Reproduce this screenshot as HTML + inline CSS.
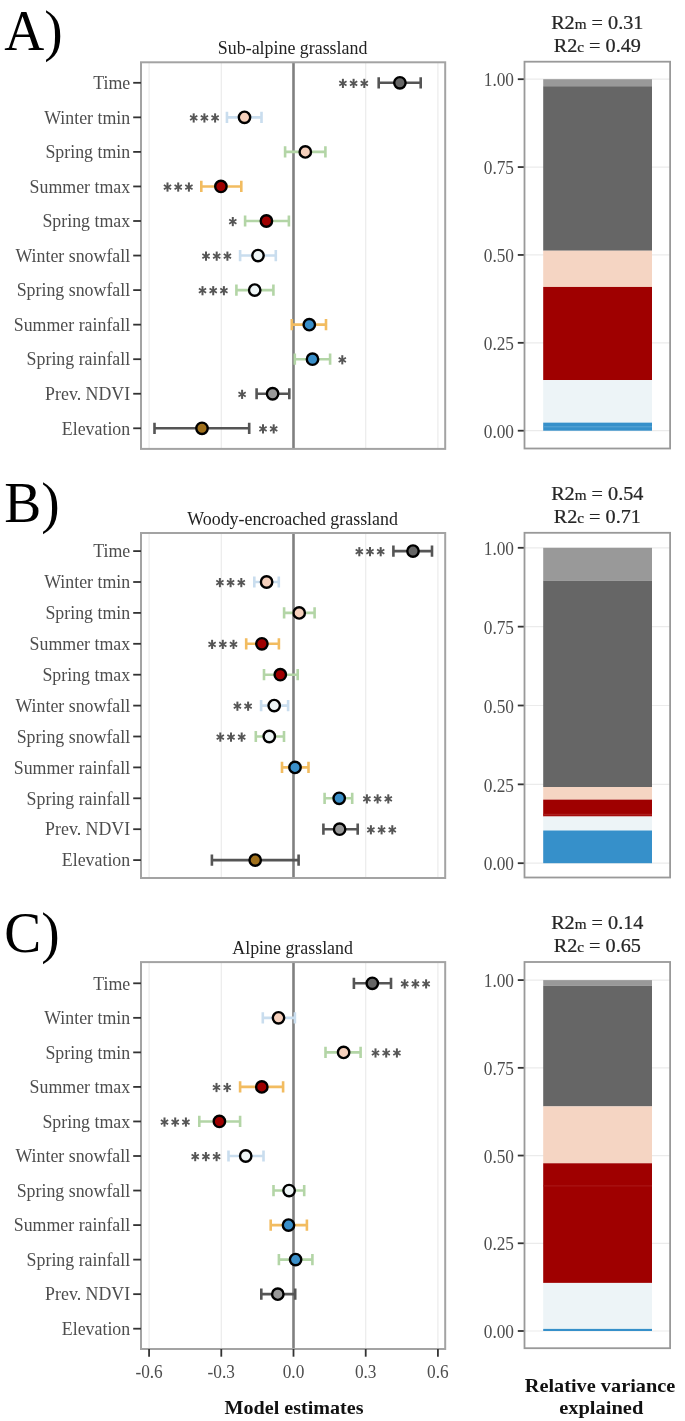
<!DOCTYPE html>
<html><head><meta charset="utf-8"><title>Model estimates</title>
<style>
html,body{margin:0;padding:0;background:#fff;}
body{width:685px;height:1421px;overflow:hidden;}
svg{display:block;filter:blur(0.4px);font-family:"Liberation Serif",serif;}
</style></head>
<body>
<svg width="685" height="1421" viewBox="0 0 685 1421">
<rect width="685" height="1421" fill="#fff"/>
<text transform="translate(4.3,49.60) scale(1,1.03)" font-size="55.4" fill="#000">A)</text>
<text transform="translate(292.60,54.40) scale(1,1.1)" font-size="17.9" text-anchor="middle" fill="#222" font-weight="normal" >Sub-alpine grassland</text>
<line x1="149.08" y1="62.3" x2="149.08" y2="448.9" stroke="#ebebeb" stroke-width="1.2"/>
<line x1="221.29" y1="62.3" x2="221.29" y2="448.9" stroke="#ebebeb" stroke-width="1.2"/>
<line x1="365.71" y1="62.3" x2="365.71" y2="448.9" stroke="#ebebeb" stroke-width="1.2"/>
<line x1="437.92" y1="62.3" x2="437.92" y2="448.9" stroke="#ebebeb" stroke-width="1.2"/>
<line x1="293.5" y1="62.3" x2="293.5" y2="448.9" stroke="#808080" stroke-width="2.6"/>
<rect x="141.0" y="62.3" width="304.20" height="386.60" fill="none" stroke="#a3a3a3" stroke-width="2.0"/>
<line x1="133.2" y1="82.80" x2="141.0" y2="82.80" stroke="#333" stroke-width="1.8"/>
<text transform="translate(130.20,89.02) scale(1.033,1.1)" font-size="17.3" text-anchor="end" fill="#4d4d4d" font-weight="normal" >Time</text>
<path d="M378.70,82.80H420.70M378.70,77.20V88.40M420.70,77.20V88.40" stroke="#555555" stroke-width="2.6" fill="none"/>
<circle cx="399.90" cy="82.80" r="5.7" fill="#666666" stroke="#000" stroke-width="2.4"/>
<path d="M342.90,78.80V88.00" stroke="#555555" stroke-width="2.0" fill="none"/>
<path d="M339.26,81.30L346.54,85.50M346.54,81.30L339.26,85.50" stroke="#555555" stroke-width="1.7" fill="none"/>
<path d="M353.60,78.80V88.00" stroke="#555555" stroke-width="2.0" fill="none"/>
<path d="M349.96,81.30L357.24,85.50M357.24,81.30L349.96,85.50" stroke="#555555" stroke-width="1.7" fill="none"/>
<path d="M364.30,78.80V88.00" stroke="#555555" stroke-width="2.0" fill="none"/>
<path d="M360.66,81.30L367.94,85.50M367.94,81.30L360.66,85.50" stroke="#555555" stroke-width="1.7" fill="none"/>
<line x1="133.2" y1="117.35" x2="141.0" y2="117.35" stroke="#333" stroke-width="1.8"/>
<text transform="translate(130.20,123.56) scale(1.033,1.1)" font-size="17.3" text-anchor="end" fill="#4d4d4d" font-weight="normal" >Winter tmin</text>
<path d="M226.95,117.35H261.50M226.95,111.75V122.95M261.50,111.75V122.95" stroke="#c9ddee" stroke-width="2.6" fill="none"/>
<circle cx="244.50" cy="117.35" r="5.7" fill="#f5d0bc" stroke="#000" stroke-width="2.4"/>
<path d="M193.70,113.35V122.55" stroke="#555555" stroke-width="2.0" fill="none"/>
<path d="M190.06,115.85L197.34,120.05M197.34,115.85L190.06,120.05" stroke="#555555" stroke-width="1.7" fill="none"/>
<path d="M204.40,113.35V122.55" stroke="#555555" stroke-width="2.0" fill="none"/>
<path d="M200.76,115.85L208.04,120.05M208.04,115.85L200.76,120.05" stroke="#555555" stroke-width="1.7" fill="none"/>
<path d="M215.10,113.35V122.55" stroke="#555555" stroke-width="2.0" fill="none"/>
<path d="M211.46,115.85L218.74,120.05M218.74,115.85L211.46,120.05" stroke="#555555" stroke-width="1.7" fill="none"/>
<line x1="133.2" y1="151.90" x2="141.0" y2="151.90" stroke="#333" stroke-width="1.8"/>
<text transform="translate(130.20,158.11) scale(1.033,1.1)" font-size="17.3" text-anchor="end" fill="#4d4d4d" font-weight="normal" >Spring tmin</text>
<path d="M285.10,151.90H325.40M285.10,146.30V157.50M325.40,146.30V157.50" stroke="#b3d5a6" stroke-width="2.6" fill="none"/>
<circle cx="305.30" cy="151.90" r="5.7" fill="#f5d0bc" stroke="#000" stroke-width="2.4"/>
<line x1="133.2" y1="186.45" x2="141.0" y2="186.45" stroke="#333" stroke-width="1.8"/>
<text transform="translate(130.20,192.66) scale(1.033,1.1)" font-size="17.3" text-anchor="end" fill="#4d4d4d" font-weight="normal" >Summer tmax</text>
<path d="M201.30,186.45H241.30M201.30,180.85V192.05M241.30,180.85V192.05" stroke="#f2bc60" stroke-width="2.6" fill="none"/>
<circle cx="220.90" cy="186.45" r="5.7" fill="#9f0000" stroke="#000" stroke-width="2.4"/>
<path d="M167.50,182.45V191.65" stroke="#555555" stroke-width="2.0" fill="none"/>
<path d="M163.86,184.95L171.14,189.15M171.14,184.95L163.86,189.15" stroke="#555555" stroke-width="1.7" fill="none"/>
<path d="M178.20,182.45V191.65" stroke="#555555" stroke-width="2.0" fill="none"/>
<path d="M174.56,184.95L181.84,189.15M181.84,184.95L174.56,189.15" stroke="#555555" stroke-width="1.7" fill="none"/>
<path d="M188.90,182.45V191.65" stroke="#555555" stroke-width="2.0" fill="none"/>
<path d="M185.26,184.95L192.54,189.15M192.54,184.95L185.26,189.15" stroke="#555555" stroke-width="1.7" fill="none"/>
<line x1="133.2" y1="221.00" x2="141.0" y2="221.00" stroke="#333" stroke-width="1.8"/>
<text transform="translate(130.20,227.22) scale(1.033,1.1)" font-size="17.3" text-anchor="end" fill="#4d4d4d" font-weight="normal" >Spring tmax</text>
<path d="M245.10,221.00H288.90M245.10,215.40V226.60M288.90,215.40V226.60" stroke="#b3d5a6" stroke-width="2.6" fill="none"/>
<circle cx="266.40" cy="221.00" r="5.7" fill="#9f0000" stroke="#000" stroke-width="2.4"/>
<path d="M232.80,217.00V226.20" stroke="#555555" stroke-width="2.0" fill="none"/>
<path d="M229.16,219.50L236.44,223.70M236.44,219.50L229.16,223.70" stroke="#555555" stroke-width="1.7" fill="none"/>
<line x1="133.2" y1="255.55" x2="141.0" y2="255.55" stroke="#333" stroke-width="1.8"/>
<text transform="translate(130.20,261.76) scale(1.033,1.1)" font-size="17.3" text-anchor="end" fill="#4d4d4d" font-weight="normal" >Winter snowfall</text>
<path d="M240.10,255.55H275.80M240.10,249.95V261.15M275.80,249.95V261.15" stroke="#c9ddee" stroke-width="2.6" fill="none"/>
<circle cx="258.00" cy="255.55" r="5.7" fill="#eef5f6" stroke="#000" stroke-width="2.4"/>
<path d="M206.00,251.55V260.75" stroke="#555555" stroke-width="2.0" fill="none"/>
<path d="M202.36,254.05L209.64,258.25M209.64,254.05L202.36,258.25" stroke="#555555" stroke-width="1.7" fill="none"/>
<path d="M216.70,251.55V260.75" stroke="#555555" stroke-width="2.0" fill="none"/>
<path d="M213.06,254.05L220.34,258.25M220.34,254.05L213.06,258.25" stroke="#555555" stroke-width="1.7" fill="none"/>
<path d="M227.40,251.55V260.75" stroke="#555555" stroke-width="2.0" fill="none"/>
<path d="M223.76,254.05L231.04,258.25M231.04,254.05L223.76,258.25" stroke="#555555" stroke-width="1.7" fill="none"/>
<line x1="133.2" y1="290.10" x2="141.0" y2="290.10" stroke="#333" stroke-width="1.8"/>
<text transform="translate(130.20,296.31) scale(1.033,1.1)" font-size="17.3" text-anchor="end" fill="#4d4d4d" font-weight="normal" >Spring snowfall</text>
<path d="M236.40,290.10H273.40M236.40,284.50V295.70M273.40,284.50V295.70" stroke="#b3d5a6" stroke-width="2.6" fill="none"/>
<circle cx="254.70" cy="290.10" r="5.7" fill="#eef5f6" stroke="#000" stroke-width="2.4"/>
<path d="M202.50,286.10V295.30" stroke="#555555" stroke-width="2.0" fill="none"/>
<path d="M198.86,288.60L206.14,292.80M206.14,288.60L198.86,292.80" stroke="#555555" stroke-width="1.7" fill="none"/>
<path d="M213.20,286.10V295.30" stroke="#555555" stroke-width="2.0" fill="none"/>
<path d="M209.56,288.60L216.84,292.80M216.84,288.60L209.56,292.80" stroke="#555555" stroke-width="1.7" fill="none"/>
<path d="M223.90,286.10V295.30" stroke="#555555" stroke-width="2.0" fill="none"/>
<path d="M220.26,288.60L227.54,292.80M227.54,288.60L220.26,292.80" stroke="#555555" stroke-width="1.7" fill="none"/>
<line x1="133.2" y1="324.65" x2="141.0" y2="324.65" stroke="#333" stroke-width="1.8"/>
<text transform="translate(130.20,330.86) scale(1.033,1.1)" font-size="17.3" text-anchor="end" fill="#4d4d4d" font-weight="normal" >Summer rainfall</text>
<path d="M291.80,324.65H326.00M291.80,319.05V330.25M326.00,319.05V330.25" stroke="#f2bc60" stroke-width="2.6" fill="none"/>
<circle cx="309.30" cy="324.65" r="5.7" fill="#3a8fc9" stroke="#000" stroke-width="2.4"/>
<line x1="133.2" y1="359.20" x2="141.0" y2="359.20" stroke="#333" stroke-width="1.8"/>
<text transform="translate(130.20,365.41) scale(1.033,1.1)" font-size="17.3" text-anchor="end" fill="#4d4d4d" font-weight="normal" >Spring rainfall</text>
<path d="M294.80,359.20H330.10M294.80,353.60V364.80M330.10,353.60V364.80" stroke="#b3d5a6" stroke-width="2.6" fill="none"/>
<circle cx="312.50" cy="359.20" r="5.7" fill="#3a8fc9" stroke="#000" stroke-width="2.4"/>
<path d="M342.30,355.20V364.40" stroke="#555555" stroke-width="2.0" fill="none"/>
<path d="M338.66,357.70L345.94,361.90M345.94,357.70L338.66,361.90" stroke="#555555" stroke-width="1.7" fill="none"/>
<line x1="133.2" y1="393.75" x2="141.0" y2="393.75" stroke="#333" stroke-width="1.8"/>
<text transform="translate(130.20,399.96) scale(1.033,1.1)" font-size="17.3" text-anchor="end" fill="#4d4d4d" font-weight="normal" >Prev. NDVI</text>
<path d="M256.60,393.75H289.30M256.60,388.15V399.35M289.30,388.15V399.35" stroke="#555555" stroke-width="2.6" fill="none"/>
<circle cx="272.60" cy="393.75" r="5.7" fill="#999999" stroke="#000" stroke-width="2.4"/>
<path d="M242.10,389.75V398.95" stroke="#555555" stroke-width="2.0" fill="none"/>
<path d="M238.46,392.25L245.74,396.45M245.74,392.25L238.46,396.45" stroke="#555555" stroke-width="1.7" fill="none"/>
<line x1="133.2" y1="428.30" x2="141.0" y2="428.30" stroke="#333" stroke-width="1.8"/>
<text transform="translate(130.20,434.51) scale(1.033,1.1)" font-size="17.3" text-anchor="end" fill="#4d4d4d" font-weight="normal" >Elevation</text>
<path d="M154.50,428.30H249.20M154.50,422.70V433.90M249.20,422.70V433.90" stroke="#555555" stroke-width="2.6" fill="none"/>
<circle cx="202.00" cy="428.30" r="5.7" fill="#a0701c" stroke="#000" stroke-width="2.4"/>
<path d="M263.00,424.30V433.50" stroke="#555555" stroke-width="2.0" fill="none"/>
<path d="M259.36,426.80L266.64,431.00M266.64,426.80L259.36,431.00" stroke="#555555" stroke-width="1.7" fill="none"/>
<path d="M273.70,424.30V433.50" stroke="#555555" stroke-width="2.0" fill="none"/>
<path d="M270.06,426.80L277.34,431.00M277.34,426.80L270.06,431.00" stroke="#555555" stroke-width="1.7" fill="none"/>
<line x1="524.5" y1="430.70" x2="670.1" y2="430.70" stroke="#ebebeb" stroke-width="1.2"/>
<line x1="517.8" y1="430.70" x2="524.5" y2="430.70" stroke="#333" stroke-width="1.8"/>
<text transform="translate(514.00,437.91) scale(1,1.1)" font-size="17.3" text-anchor="end" fill="#4d4d4d" font-weight="normal" >0.00</text>
<line x1="524.5" y1="342.82" x2="670.1" y2="342.82" stroke="#ebebeb" stroke-width="1.2"/>
<line x1="517.8" y1="342.82" x2="524.5" y2="342.82" stroke="#333" stroke-width="1.8"/>
<text transform="translate(514.00,350.04) scale(1,1.1)" font-size="17.3" text-anchor="end" fill="#4d4d4d" font-weight="normal" >0.25</text>
<line x1="524.5" y1="254.95" x2="670.1" y2="254.95" stroke="#ebebeb" stroke-width="1.2"/>
<line x1="517.8" y1="254.95" x2="524.5" y2="254.95" stroke="#333" stroke-width="1.8"/>
<text transform="translate(514.00,262.16) scale(1,1.1)" font-size="17.3" text-anchor="end" fill="#4d4d4d" font-weight="normal" >0.50</text>
<line x1="524.5" y1="167.07" x2="670.1" y2="167.07" stroke="#ebebeb" stroke-width="1.2"/>
<line x1="517.8" y1="167.07" x2="524.5" y2="167.07" stroke="#333" stroke-width="1.8"/>
<text transform="translate(514.00,174.29) scale(1,1.1)" font-size="17.3" text-anchor="end" fill="#4d4d4d" font-weight="normal" >0.75</text>
<line x1="524.5" y1="79.20" x2="670.1" y2="79.20" stroke="#ebebeb" stroke-width="1.2"/>
<line x1="517.8" y1="79.20" x2="524.5" y2="79.20" stroke="#333" stroke-width="1.8"/>
<text transform="translate(514.00,86.41) scale(1,1.1)" font-size="17.3" text-anchor="end" fill="#4d4d4d" font-weight="normal" >1.00</text>
<rect x="543.2" y="79.20" width="108.80" height="7.03" fill="#999999"/>
<rect x="543.2" y="86.23" width="108.80" height="164.50" fill="#666666"/>
<rect x="543.2" y="250.73" width="108.80" height="36.20" fill="#f5d5c3"/>
<rect x="543.2" y="286.94" width="108.80" height="93.15" fill="#9f0000"/>
<rect x="543.2" y="380.08" width="108.80" height="42.53" fill="#edf4f7"/>
<rect x="543.2" y="422.62" width="108.80" height="8.08" fill="#3690ca"/>
<rect x="543.2" y="426.30" width="108.80" height="1.0" fill="#5ba6d6"/>
<rect x="524.5" y="61.7" width="145.60" height="386.80" fill="none" stroke="#999" stroke-width="1.8"/>
<text transform="translate(597.30,29.10) scale(1.17,1.1)" font-size="17.3" text-anchor="middle" fill="#262626" stroke="#262626" stroke-width="0.2">R2<tspan font-size="13">m</tspan> = 0.31</text>
<text transform="translate(597.30,51.70) scale(1.17,1.1)" font-size="17.3" text-anchor="middle" fill="#262626" stroke="#262626" stroke-width="0.2">R2<tspan font-size="13">c</tspan> = 0.49</text>
<text transform="translate(4.3,521.50) scale(1,1.03)" font-size="55.4" fill="#000">B)</text>
<text transform="translate(292.60,525.10) scale(1,1.1)" font-size="17.9" text-anchor="middle" fill="#222" font-weight="normal" >Woody-encroached grassland</text>
<line x1="149.08" y1="533.0" x2="149.08" y2="878.0" stroke="#ebebeb" stroke-width="1.2"/>
<line x1="221.29" y1="533.0" x2="221.29" y2="878.0" stroke="#ebebeb" stroke-width="1.2"/>
<line x1="365.71" y1="533.0" x2="365.71" y2="878.0" stroke="#ebebeb" stroke-width="1.2"/>
<line x1="437.92" y1="533.0" x2="437.92" y2="878.0" stroke="#ebebeb" stroke-width="1.2"/>
<line x1="293.5" y1="533.0" x2="293.5" y2="878.0" stroke="#808080" stroke-width="2.6"/>
<rect x="141.0" y="533.0" width="304.20" height="345.00" fill="none" stroke="#a3a3a3" stroke-width="2.0"/>
<line x1="133.2" y1="551.10" x2="141.0" y2="551.10" stroke="#333" stroke-width="1.8"/>
<text transform="translate(130.20,557.32) scale(1.033,1.1)" font-size="17.3" text-anchor="end" fill="#4d4d4d" font-weight="normal" >Time</text>
<path d="M393.40,551.10H432.00M393.40,545.50V556.70M432.00,545.50V556.70" stroke="#555555" stroke-width="2.6" fill="none"/>
<circle cx="413.00" cy="551.10" r="5.7" fill="#666666" stroke="#000" stroke-width="2.4"/>
<path d="M359.30,547.10V556.30" stroke="#555555" stroke-width="2.0" fill="none"/>
<path d="M355.66,549.60L362.94,553.80M362.94,549.60L355.66,553.80" stroke="#555555" stroke-width="1.7" fill="none"/>
<path d="M370.00,547.10V556.30" stroke="#555555" stroke-width="2.0" fill="none"/>
<path d="M366.36,549.60L373.64,553.80M373.64,549.60L366.36,553.80" stroke="#555555" stroke-width="1.7" fill="none"/>
<path d="M380.70,547.10V556.30" stroke="#555555" stroke-width="2.0" fill="none"/>
<path d="M377.06,549.60L384.34,553.80M384.34,549.60L377.06,553.80" stroke="#555555" stroke-width="1.7" fill="none"/>
<line x1="133.2" y1="582.00" x2="141.0" y2="582.00" stroke="#333" stroke-width="1.8"/>
<text transform="translate(130.20,588.22) scale(1.033,1.1)" font-size="17.3" text-anchor="end" fill="#4d4d4d" font-weight="normal" >Winter tmin</text>
<path d="M254.30,582.00H278.80M254.30,576.40V587.60M278.80,576.40V587.60" stroke="#c9ddee" stroke-width="2.6" fill="none"/>
<circle cx="266.60" cy="582.00" r="5.7" fill="#f5d0bc" stroke="#000" stroke-width="2.4"/>
<path d="M219.90,578.00V587.20" stroke="#555555" stroke-width="2.0" fill="none"/>
<path d="M216.26,580.50L223.54,584.70M223.54,580.50L216.26,584.70" stroke="#555555" stroke-width="1.7" fill="none"/>
<path d="M230.60,578.00V587.20" stroke="#555555" stroke-width="2.0" fill="none"/>
<path d="M226.96,580.50L234.24,584.70M234.24,580.50L226.96,584.70" stroke="#555555" stroke-width="1.7" fill="none"/>
<path d="M241.30,578.00V587.20" stroke="#555555" stroke-width="2.0" fill="none"/>
<path d="M237.66,580.50L244.94,584.70M244.94,580.50L237.66,584.70" stroke="#555555" stroke-width="1.7" fill="none"/>
<line x1="133.2" y1="612.90" x2="141.0" y2="612.90" stroke="#333" stroke-width="1.8"/>
<text transform="translate(130.20,619.12) scale(1.033,1.1)" font-size="17.3" text-anchor="end" fill="#4d4d4d" font-weight="normal" >Spring tmin</text>
<path d="M284.10,612.90H314.60M284.10,607.30V618.50M314.60,607.30V618.50" stroke="#b3d5a6" stroke-width="2.6" fill="none"/>
<circle cx="299.20" cy="612.90" r="5.7" fill="#f5d0bc" stroke="#000" stroke-width="2.4"/>
<line x1="133.2" y1="643.80" x2="141.0" y2="643.80" stroke="#333" stroke-width="1.8"/>
<text transform="translate(130.20,650.01) scale(1.033,1.1)" font-size="17.3" text-anchor="end" fill="#4d4d4d" font-weight="normal" >Summer tmax</text>
<path d="M246.20,643.80H278.90M246.20,638.20V649.40M278.90,638.20V649.40" stroke="#f2bc60" stroke-width="2.6" fill="none"/>
<circle cx="261.90" cy="643.80" r="5.7" fill="#9f0000" stroke="#000" stroke-width="2.4"/>
<path d="M212.10,639.80V649.00" stroke="#555555" stroke-width="2.0" fill="none"/>
<path d="M208.46,642.30L215.74,646.50M215.74,642.30L208.46,646.50" stroke="#555555" stroke-width="1.7" fill="none"/>
<path d="M222.80,639.80V649.00" stroke="#555555" stroke-width="2.0" fill="none"/>
<path d="M219.16,642.30L226.44,646.50M226.44,642.30L219.16,646.50" stroke="#555555" stroke-width="1.7" fill="none"/>
<path d="M233.50,639.80V649.00" stroke="#555555" stroke-width="2.0" fill="none"/>
<path d="M229.86,642.30L237.14,646.50M237.14,642.30L229.86,646.50" stroke="#555555" stroke-width="1.7" fill="none"/>
<line x1="133.2" y1="674.70" x2="141.0" y2="674.70" stroke="#333" stroke-width="1.8"/>
<text transform="translate(130.20,680.92) scale(1.033,1.1)" font-size="17.3" text-anchor="end" fill="#4d4d4d" font-weight="normal" >Spring tmax</text>
<path d="M264.00,674.70H297.70M264.00,669.10V680.30M297.70,669.10V680.30" stroke="#b3d5a6" stroke-width="2.6" fill="none"/>
<circle cx="280.30" cy="674.70" r="5.7" fill="#9f0000" stroke="#000" stroke-width="2.4"/>
<line x1="133.2" y1="705.60" x2="141.0" y2="705.60" stroke="#333" stroke-width="1.8"/>
<text transform="translate(130.20,711.82) scale(1.033,1.1)" font-size="17.3" text-anchor="end" fill="#4d4d4d" font-weight="normal" >Winter snowfall</text>
<path d="M261.10,705.60H288.10M261.10,700.00V711.20M288.10,700.00V711.20" stroke="#c9ddee" stroke-width="2.6" fill="none"/>
<circle cx="274.20" cy="705.60" r="5.7" fill="#eef5f6" stroke="#000" stroke-width="2.4"/>
<path d="M237.40,701.60V710.80" stroke="#555555" stroke-width="2.0" fill="none"/>
<path d="M233.76,704.10L241.04,708.30M241.04,704.10L233.76,708.30" stroke="#555555" stroke-width="1.7" fill="none"/>
<path d="M248.10,701.60V710.80" stroke="#555555" stroke-width="2.0" fill="none"/>
<path d="M244.46,704.10L251.74,708.30M251.74,704.10L244.46,708.30" stroke="#555555" stroke-width="1.7" fill="none"/>
<line x1="133.2" y1="736.50" x2="141.0" y2="736.50" stroke="#333" stroke-width="1.8"/>
<text transform="translate(130.20,742.72) scale(1.033,1.1)" font-size="17.3" text-anchor="end" fill="#4d4d4d" font-weight="normal" >Spring snowfall</text>
<path d="M255.80,736.50H284.00M255.80,730.90V742.10M284.00,730.90V742.10" stroke="#b3d5a6" stroke-width="2.6" fill="none"/>
<circle cx="269.30" cy="736.50" r="5.7" fill="#eef5f6" stroke="#000" stroke-width="2.4"/>
<path d="M220.30,732.50V741.70" stroke="#555555" stroke-width="2.0" fill="none"/>
<path d="M216.66,735.00L223.94,739.20M223.94,735.00L216.66,739.20" stroke="#555555" stroke-width="1.7" fill="none"/>
<path d="M231.00,732.50V741.70" stroke="#555555" stroke-width="2.0" fill="none"/>
<path d="M227.36,735.00L234.64,739.20M234.64,735.00L227.36,739.20" stroke="#555555" stroke-width="1.7" fill="none"/>
<path d="M241.70,732.50V741.70" stroke="#555555" stroke-width="2.0" fill="none"/>
<path d="M238.06,735.00L245.34,739.20M245.34,735.00L238.06,739.20" stroke="#555555" stroke-width="1.7" fill="none"/>
<line x1="133.2" y1="767.40" x2="141.0" y2="767.40" stroke="#333" stroke-width="1.8"/>
<text transform="translate(130.20,773.62) scale(1.033,1.1)" font-size="17.3" text-anchor="end" fill="#4d4d4d" font-weight="normal" >Summer rainfall</text>
<path d="M282.00,767.40H308.50M282.00,761.80V773.00M308.50,761.80V773.00" stroke="#f2bc60" stroke-width="2.6" fill="none"/>
<circle cx="295.00" cy="767.40" r="5.7" fill="#3a8fc9" stroke="#000" stroke-width="2.4"/>
<line x1="133.2" y1="798.30" x2="141.0" y2="798.30" stroke="#333" stroke-width="1.8"/>
<text transform="translate(130.20,804.51) scale(1.033,1.1)" font-size="17.3" text-anchor="end" fill="#4d4d4d" font-weight="normal" >Spring rainfall</text>
<path d="M324.60,798.30H352.20M324.60,792.70V803.90M352.20,792.70V803.90" stroke="#b3d5a6" stroke-width="2.6" fill="none"/>
<circle cx="339.20" cy="798.30" r="5.7" fill="#3a8fc9" stroke="#000" stroke-width="2.4"/>
<path d="M366.90,794.30V803.50" stroke="#555555" stroke-width="2.0" fill="none"/>
<path d="M363.26,796.80L370.54,801.00M370.54,796.80L363.26,801.00" stroke="#555555" stroke-width="1.7" fill="none"/>
<path d="M377.60,794.30V803.50" stroke="#555555" stroke-width="2.0" fill="none"/>
<path d="M373.96,796.80L381.24,801.00M381.24,796.80L373.96,801.00" stroke="#555555" stroke-width="1.7" fill="none"/>
<path d="M388.30,794.30V803.50" stroke="#555555" stroke-width="2.0" fill="none"/>
<path d="M384.66,796.80L391.94,801.00M391.94,796.80L384.66,801.00" stroke="#555555" stroke-width="1.7" fill="none"/>
<line x1="133.2" y1="829.20" x2="141.0" y2="829.20" stroke="#333" stroke-width="1.8"/>
<text transform="translate(130.20,835.42) scale(1.033,1.1)" font-size="17.3" text-anchor="end" fill="#4d4d4d" font-weight="normal" >Prev. NDVI</text>
<path d="M323.40,829.20H357.70M323.40,823.60V834.80M357.70,823.60V834.80" stroke="#555555" stroke-width="2.6" fill="none"/>
<circle cx="339.60" cy="829.20" r="5.7" fill="#999999" stroke="#000" stroke-width="2.4"/>
<path d="M370.90,825.20V834.40" stroke="#555555" stroke-width="2.0" fill="none"/>
<path d="M367.26,827.70L374.54,831.90M374.54,827.70L367.26,831.90" stroke="#555555" stroke-width="1.7" fill="none"/>
<path d="M381.60,825.20V834.40" stroke="#555555" stroke-width="2.0" fill="none"/>
<path d="M377.96,827.70L385.24,831.90M385.24,827.70L377.96,831.90" stroke="#555555" stroke-width="1.7" fill="none"/>
<path d="M392.30,825.20V834.40" stroke="#555555" stroke-width="2.0" fill="none"/>
<path d="M388.66,827.70L395.94,831.90M395.94,827.70L388.66,831.90" stroke="#555555" stroke-width="1.7" fill="none"/>
<line x1="133.2" y1="860.10" x2="141.0" y2="860.10" stroke="#333" stroke-width="1.8"/>
<text transform="translate(130.20,866.32) scale(1.033,1.1)" font-size="17.3" text-anchor="end" fill="#4d4d4d" font-weight="normal" >Elevation</text>
<path d="M211.90,860.10H298.60M211.90,854.50V865.70M298.60,854.50V865.70" stroke="#555555" stroke-width="2.6" fill="none"/>
<circle cx="255.20" cy="860.10" r="5.7" fill="#a0701c" stroke="#000" stroke-width="2.4"/>
<line x1="524.5" y1="863.20" x2="670.1" y2="863.20" stroke="#ebebeb" stroke-width="1.2"/>
<line x1="517.8" y1="863.20" x2="524.5" y2="863.20" stroke="#333" stroke-width="1.8"/>
<text transform="translate(514.00,870.42) scale(1,1.1)" font-size="17.3" text-anchor="end" fill="#4d4d4d" font-weight="normal" >0.00</text>
<line x1="524.5" y1="784.35" x2="670.1" y2="784.35" stroke="#ebebeb" stroke-width="1.2"/>
<line x1="517.8" y1="784.35" x2="524.5" y2="784.35" stroke="#333" stroke-width="1.8"/>
<text transform="translate(514.00,791.57) scale(1,1.1)" font-size="17.3" text-anchor="end" fill="#4d4d4d" font-weight="normal" >0.25</text>
<line x1="524.5" y1="705.50" x2="670.1" y2="705.50" stroke="#ebebeb" stroke-width="1.2"/>
<line x1="517.8" y1="705.50" x2="524.5" y2="705.50" stroke="#333" stroke-width="1.8"/>
<text transform="translate(514.00,712.72) scale(1,1.1)" font-size="17.3" text-anchor="end" fill="#4d4d4d" font-weight="normal" >0.50</text>
<line x1="524.5" y1="626.65" x2="670.1" y2="626.65" stroke="#ebebeb" stroke-width="1.2"/>
<line x1="517.8" y1="626.65" x2="524.5" y2="626.65" stroke="#333" stroke-width="1.8"/>
<text transform="translate(514.00,633.87) scale(1,1.1)" font-size="17.3" text-anchor="end" fill="#4d4d4d" font-weight="normal" >0.75</text>
<line x1="524.5" y1="547.80" x2="670.1" y2="547.80" stroke="#ebebeb" stroke-width="1.2"/>
<line x1="517.8" y1="547.80" x2="524.5" y2="547.80" stroke="#333" stroke-width="1.8"/>
<text transform="translate(514.00,555.01) scale(1,1.1)" font-size="17.3" text-anchor="end" fill="#4d4d4d" font-weight="normal" >1.00</text>
<rect x="543.2" y="547.80" width="108.80" height="32.80" fill="#999999"/>
<rect x="543.2" y="580.60" width="108.80" height="206.40" fill="#666666"/>
<rect x="543.2" y="787.00" width="108.80" height="12.62" fill="#f5d5c3"/>
<rect x="543.2" y="799.62" width="108.80" height="16.91" fill="#9f0000"/>
<rect x="543.2" y="816.52" width="108.80" height="13.97" fill="#edf4f7"/>
<rect x="543.2" y="830.49" width="108.80" height="32.71" fill="#3690ca"/>
<rect x="543.2" y="813.80" width="108.80" height="1.6" fill="#ad1f1f"/>
<rect x="524.5" y="532.8" width="145.60" height="344.70" fill="none" stroke="#999" stroke-width="1.8"/>
<text transform="translate(597.30,500.20) scale(1.17,1.1)" font-size="17.3" text-anchor="middle" fill="#262626" stroke="#262626" stroke-width="0.2">R2<tspan font-size="13">m</tspan> = 0.54</text>
<text transform="translate(597.30,522.80) scale(1.17,1.1)" font-size="17.3" text-anchor="middle" fill="#262626" stroke="#262626" stroke-width="0.2">R2<tspan font-size="13">c</tspan> = 0.71</text>
<text transform="translate(4.3,952.20) scale(1,1.03)" font-size="55.4" fill="#000">C)</text>
<text transform="translate(292.60,954.20) scale(1,1.1)" font-size="17.9" text-anchor="middle" fill="#222" font-weight="normal" >Alpine grassland</text>
<line x1="149.08" y1="962.1" x2="149.08" y2="1349.0" stroke="#ebebeb" stroke-width="1.2"/>
<line x1="221.29" y1="962.1" x2="221.29" y2="1349.0" stroke="#ebebeb" stroke-width="1.2"/>
<line x1="365.71" y1="962.1" x2="365.71" y2="1349.0" stroke="#ebebeb" stroke-width="1.2"/>
<line x1="437.92" y1="962.1" x2="437.92" y2="1349.0" stroke="#ebebeb" stroke-width="1.2"/>
<line x1="293.5" y1="962.1" x2="293.5" y2="1349.0" stroke="#808080" stroke-width="2.6"/>
<rect x="141.0" y="962.1" width="304.20" height="386.90" fill="none" stroke="#a3a3a3" stroke-width="2.0"/>
<line x1="133.2" y1="983.30" x2="141.0" y2="983.30" stroke="#333" stroke-width="1.8"/>
<text transform="translate(130.20,989.51) scale(1.033,1.1)" font-size="17.3" text-anchor="end" fill="#4d4d4d" font-weight="normal" >Time</text>
<path d="M353.90,983.30H391.00M353.90,977.70V988.90M391.00,977.70V988.90" stroke="#555555" stroke-width="2.6" fill="none"/>
<circle cx="372.30" cy="983.30" r="5.7" fill="#666666" stroke="#000" stroke-width="2.4"/>
<path d="M404.70,979.30V988.50" stroke="#555555" stroke-width="2.0" fill="none"/>
<path d="M401.06,981.80L408.34,986.00M408.34,981.80L401.06,986.00" stroke="#555555" stroke-width="1.7" fill="none"/>
<path d="M415.40,979.30V988.50" stroke="#555555" stroke-width="2.0" fill="none"/>
<path d="M411.76,981.80L419.04,986.00M419.04,981.80L411.76,986.00" stroke="#555555" stroke-width="1.7" fill="none"/>
<path d="M426.10,979.30V988.50" stroke="#555555" stroke-width="2.0" fill="none"/>
<path d="M422.46,981.80L429.74,986.00M429.74,981.80L422.46,986.00" stroke="#555555" stroke-width="1.7" fill="none"/>
<line x1="133.2" y1="1017.84" x2="141.0" y2="1017.84" stroke="#333" stroke-width="1.8"/>
<text transform="translate(130.20,1024.05) scale(1.033,1.1)" font-size="17.3" text-anchor="end" fill="#4d4d4d" font-weight="normal" >Winter tmin</text>
<path d="M262.80,1017.84H294.90M262.80,1012.24V1023.44M294.90,1012.24V1023.44" stroke="#c9ddee" stroke-width="2.6" fill="none"/>
<circle cx="278.50" cy="1017.84" r="5.7" fill="#f5d0bc" stroke="#000" stroke-width="2.4"/>
<line x1="133.2" y1="1052.38" x2="141.0" y2="1052.38" stroke="#333" stroke-width="1.8"/>
<text transform="translate(130.20,1058.59) scale(1.033,1.1)" font-size="17.3" text-anchor="end" fill="#4d4d4d" font-weight="normal" >Spring tmin</text>
<path d="M325.50,1052.38H360.60M325.50,1046.78V1057.98M360.60,1046.78V1057.98" stroke="#b3d5a6" stroke-width="2.6" fill="none"/>
<circle cx="343.60" cy="1052.38" r="5.7" fill="#f5d0bc" stroke="#000" stroke-width="2.4"/>
<path d="M375.50,1048.38V1057.58" stroke="#555555" stroke-width="2.0" fill="none"/>
<path d="M371.86,1050.88L379.14,1055.08M379.14,1050.88L371.86,1055.08" stroke="#555555" stroke-width="1.7" fill="none"/>
<path d="M386.20,1048.38V1057.58" stroke="#555555" stroke-width="2.0" fill="none"/>
<path d="M382.56,1050.88L389.84,1055.08M389.84,1050.88L382.56,1055.08" stroke="#555555" stroke-width="1.7" fill="none"/>
<path d="M396.90,1048.38V1057.58" stroke="#555555" stroke-width="2.0" fill="none"/>
<path d="M393.26,1050.88L400.54,1055.08M400.54,1050.88L393.26,1055.08" stroke="#555555" stroke-width="1.7" fill="none"/>
<line x1="133.2" y1="1086.92" x2="141.0" y2="1086.92" stroke="#333" stroke-width="1.8"/>
<text transform="translate(130.20,1093.13) scale(1.033,1.1)" font-size="17.3" text-anchor="end" fill="#4d4d4d" font-weight="normal" >Summer tmax</text>
<path d="M240.10,1086.92H283.10M240.10,1081.32V1092.52M283.10,1081.32V1092.52" stroke="#f2bc60" stroke-width="2.6" fill="none"/>
<circle cx="261.80" cy="1086.92" r="5.7" fill="#9f0000" stroke="#000" stroke-width="2.4"/>
<path d="M216.50,1082.92V1092.12" stroke="#555555" stroke-width="2.0" fill="none"/>
<path d="M212.86,1085.42L220.14,1089.62M220.14,1085.42L212.86,1089.62" stroke="#555555" stroke-width="1.7" fill="none"/>
<path d="M227.20,1082.92V1092.12" stroke="#555555" stroke-width="2.0" fill="none"/>
<path d="M223.56,1085.42L230.84,1089.62M230.84,1085.42L223.56,1089.62" stroke="#555555" stroke-width="1.7" fill="none"/>
<line x1="133.2" y1="1121.46" x2="141.0" y2="1121.46" stroke="#333" stroke-width="1.8"/>
<text transform="translate(130.20,1127.67) scale(1.033,1.1)" font-size="17.3" text-anchor="end" fill="#4d4d4d" font-weight="normal" >Spring tmax</text>
<path d="M199.30,1121.46H240.10M199.30,1115.86V1127.06M240.10,1115.86V1127.06" stroke="#b3d5a6" stroke-width="2.6" fill="none"/>
<circle cx="219.40" cy="1121.46" r="5.7" fill="#9f0000" stroke="#000" stroke-width="2.4"/>
<path d="M164.50,1117.46V1126.66" stroke="#555555" stroke-width="2.0" fill="none"/>
<path d="M160.86,1119.96L168.14,1124.16M168.14,1119.96L160.86,1124.16" stroke="#555555" stroke-width="1.7" fill="none"/>
<path d="M175.20,1117.46V1126.66" stroke="#555555" stroke-width="2.0" fill="none"/>
<path d="M171.56,1119.96L178.84,1124.16M178.84,1119.96L171.56,1124.16" stroke="#555555" stroke-width="1.7" fill="none"/>
<path d="M185.90,1117.46V1126.66" stroke="#555555" stroke-width="2.0" fill="none"/>
<path d="M182.26,1119.96L189.54,1124.16M189.54,1119.96L182.26,1124.16" stroke="#555555" stroke-width="1.7" fill="none"/>
<line x1="133.2" y1="1156.00" x2="141.0" y2="1156.00" stroke="#333" stroke-width="1.8"/>
<text transform="translate(130.20,1162.21) scale(1.033,1.1)" font-size="17.3" text-anchor="end" fill="#4d4d4d" font-weight="normal" >Winter snowfall</text>
<path d="M228.50,1156.00H263.50M228.50,1150.40V1161.60M263.50,1150.40V1161.60" stroke="#c9ddee" stroke-width="2.6" fill="none"/>
<circle cx="245.70" cy="1156.00" r="5.7" fill="#eef5f6" stroke="#000" stroke-width="2.4"/>
<path d="M195.20,1152.00V1161.20" stroke="#555555" stroke-width="2.0" fill="none"/>
<path d="M191.56,1154.50L198.84,1158.70M198.84,1154.50L191.56,1158.70" stroke="#555555" stroke-width="1.7" fill="none"/>
<path d="M205.90,1152.00V1161.20" stroke="#555555" stroke-width="2.0" fill="none"/>
<path d="M202.26,1154.50L209.54,1158.70M209.54,1154.50L202.26,1158.70" stroke="#555555" stroke-width="1.7" fill="none"/>
<path d="M216.60,1152.00V1161.20" stroke="#555555" stroke-width="2.0" fill="none"/>
<path d="M212.96,1154.50L220.24,1158.70M220.24,1154.50L212.96,1158.70" stroke="#555555" stroke-width="1.7" fill="none"/>
<line x1="133.2" y1="1190.54" x2="141.0" y2="1190.54" stroke="#333" stroke-width="1.8"/>
<text transform="translate(130.20,1196.75) scale(1.033,1.1)" font-size="17.3" text-anchor="end" fill="#4d4d4d" font-weight="normal" >Spring snowfall</text>
<path d="M273.50,1190.54H304.20M273.50,1184.94V1196.14M304.20,1184.94V1196.14" stroke="#b3d5a6" stroke-width="2.6" fill="none"/>
<circle cx="289.10" cy="1190.54" r="5.7" fill="#eef5f6" stroke="#000" stroke-width="2.4"/>
<line x1="133.2" y1="1225.08" x2="141.0" y2="1225.08" stroke="#333" stroke-width="1.8"/>
<text transform="translate(130.20,1231.29) scale(1.033,1.1)" font-size="17.3" text-anchor="end" fill="#4d4d4d" font-weight="normal" >Summer rainfall</text>
<path d="M270.70,1225.08H306.90M270.70,1219.48V1230.68M306.90,1219.48V1230.68" stroke="#f2bc60" stroke-width="2.6" fill="none"/>
<circle cx="288.50" cy="1225.08" r="5.7" fill="#3a8fc9" stroke="#000" stroke-width="2.4"/>
<line x1="133.2" y1="1259.62" x2="141.0" y2="1259.62" stroke="#333" stroke-width="1.8"/>
<text transform="translate(130.20,1265.83) scale(1.033,1.1)" font-size="17.3" text-anchor="end" fill="#4d4d4d" font-weight="normal" >Spring rainfall</text>
<path d="M278.90,1259.62H312.40M278.90,1254.02V1265.22M312.40,1254.02V1265.22" stroke="#b3d5a6" stroke-width="2.6" fill="none"/>
<circle cx="295.60" cy="1259.62" r="5.7" fill="#3a8fc9" stroke="#000" stroke-width="2.4"/>
<line x1="133.2" y1="1294.16" x2="141.0" y2="1294.16" stroke="#333" stroke-width="1.8"/>
<text transform="translate(130.20,1300.37) scale(1.033,1.1)" font-size="17.3" text-anchor="end" fill="#4d4d4d" font-weight="normal" >Prev. NDVI</text>
<path d="M261.30,1294.16H295.20M261.30,1288.56V1299.76M295.20,1288.56V1299.76" stroke="#555555" stroke-width="2.6" fill="none"/>
<circle cx="277.80" cy="1294.16" r="5.7" fill="#999999" stroke="#000" stroke-width="2.4"/>
<line x1="133.2" y1="1328.70" x2="141.0" y2="1328.70" stroke="#333" stroke-width="1.8"/>
<text transform="translate(130.20,1334.91) scale(1.033,1.1)" font-size="17.3" text-anchor="end" fill="#4d4d4d" font-weight="normal" >Elevation</text>
<line x1="524.5" y1="1331.00" x2="670.1" y2="1331.00" stroke="#ebebeb" stroke-width="1.2"/>
<line x1="517.8" y1="1331.00" x2="524.5" y2="1331.00" stroke="#333" stroke-width="1.8"/>
<text transform="translate(514.00,1338.21) scale(1,1.1)" font-size="17.3" text-anchor="end" fill="#4d4d4d" font-weight="normal" >0.00</text>
<line x1="524.5" y1="1243.28" x2="670.1" y2="1243.28" stroke="#ebebeb" stroke-width="1.2"/>
<line x1="517.8" y1="1243.28" x2="524.5" y2="1243.28" stroke="#333" stroke-width="1.8"/>
<text transform="translate(514.00,1250.49) scale(1,1.1)" font-size="17.3" text-anchor="end" fill="#4d4d4d" font-weight="normal" >0.25</text>
<line x1="524.5" y1="1155.55" x2="670.1" y2="1155.55" stroke="#ebebeb" stroke-width="1.2"/>
<line x1="517.8" y1="1155.55" x2="524.5" y2="1155.55" stroke="#333" stroke-width="1.8"/>
<text transform="translate(514.00,1162.76) scale(1,1.1)" font-size="17.3" text-anchor="end" fill="#4d4d4d" font-weight="normal" >0.50</text>
<line x1="524.5" y1="1067.83" x2="670.1" y2="1067.83" stroke="#ebebeb" stroke-width="1.2"/>
<line x1="517.8" y1="1067.83" x2="524.5" y2="1067.83" stroke="#333" stroke-width="1.8"/>
<text transform="translate(514.00,1075.04) scale(1,1.1)" font-size="17.3" text-anchor="end" fill="#4d4d4d" font-weight="normal" >0.75</text>
<line x1="524.5" y1="980.10" x2="670.1" y2="980.10" stroke="#ebebeb" stroke-width="1.2"/>
<line x1="517.8" y1="980.10" x2="524.5" y2="980.10" stroke="#333" stroke-width="1.8"/>
<text transform="translate(514.00,987.32) scale(1,1.1)" font-size="17.3" text-anchor="end" fill="#4d4d4d" font-weight="normal" >1.00</text>
<rect x="543.2" y="980.10" width="108.80" height="5.61" fill="#999999"/>
<rect x="543.2" y="985.71" width="108.80" height="120.71" fill="#666666"/>
<rect x="543.2" y="1106.42" width="108.80" height="56.85" fill="#f5d5c3"/>
<rect x="543.2" y="1163.27" width="108.80" height="119.66" fill="#9f0000"/>
<rect x="543.2" y="1282.93" width="108.80" height="45.97" fill="#edf4f7"/>
<rect x="543.2" y="1328.89" width="108.80" height="2.11" fill="#3690ca"/>
<rect x="543.2" y="1185.40" width="108.80" height="1.0" fill="#ab1a1a"/>
<rect x="524.5" y="962.0" width="145.60" height="386.20" fill="none" stroke="#999" stroke-width="1.8"/>
<text transform="translate(597.30,929.40) scale(1.17,1.1)" font-size="17.3" text-anchor="middle" fill="#262626" stroke="#262626" stroke-width="0.2">R2<tspan font-size="13">m</tspan> = 0.14</text>
<text transform="translate(597.30,952.00) scale(1.17,1.1)" font-size="17.3" text-anchor="middle" fill="#262626" stroke="#262626" stroke-width="0.2">R2<tspan font-size="13">c</tspan> = 0.65</text>
<line x1="149.08" y1="1349.0" x2="149.08" y2="1356.7" stroke="#333" stroke-width="1.8"/>
<text transform="translate(149.08,1378.30) scale(1,1.1)" font-size="17.3" text-anchor="middle" fill="#4d4d4d" font-weight="normal" >-0.6</text>
<line x1="221.29" y1="1349.0" x2="221.29" y2="1356.7" stroke="#333" stroke-width="1.8"/>
<text transform="translate(221.29,1378.30) scale(1,1.1)" font-size="17.3" text-anchor="middle" fill="#4d4d4d" font-weight="normal" >-0.3</text>
<line x1="293.50" y1="1349.0" x2="293.50" y2="1356.7" stroke="#333" stroke-width="1.8"/>
<text transform="translate(293.50,1378.30) scale(1,1.1)" font-size="17.3" text-anchor="middle" fill="#4d4d4d" font-weight="normal" >0.0</text>
<line x1="365.71" y1="1349.0" x2="365.71" y2="1356.7" stroke="#333" stroke-width="1.8"/>
<text transform="translate(365.71,1378.30) scale(1,1.1)" font-size="17.3" text-anchor="middle" fill="#4d4d4d" font-weight="normal" >0.3</text>
<line x1="437.92" y1="1349.0" x2="437.92" y2="1356.7" stroke="#333" stroke-width="1.8"/>
<text transform="translate(437.92,1378.30) scale(1,1.1)" font-size="17.3" text-anchor="middle" fill="#4d4d4d" font-weight="normal" >0.6</text>
<text transform="translate(294.00,1414.00) scale(1.15,1.05)" font-size="17.5" text-anchor="middle" fill="#111" font-weight="bold" >Model estimates</text>
<text transform="translate(600.00,1391.80) scale(1.16,1.05)" font-size="17.5" text-anchor="middle" fill="#111" font-weight="bold" >Relative variance</text>
<text transform="translate(601.20,1414.20) scale(1.17,1.05)" font-size="17.5" text-anchor="middle" fill="#111" font-weight="bold" >explained</text>
</svg>
</body></html>
